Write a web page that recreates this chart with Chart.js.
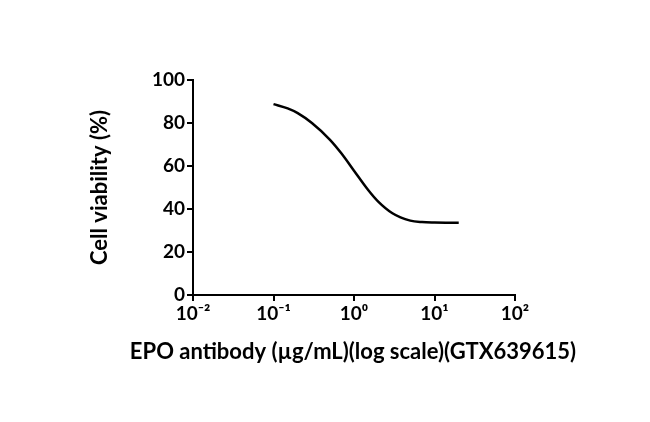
<!DOCTYPE html>
<html>
<head>
<meta charset="utf-8">
<script src="https://cdn.jsdelivr.net/npm/chart.js@4"></script>
<style>
html,body{margin:0;padding:0;background:#fff;}
#wrap{width:650px;height:422px;}
</style>
</head>
<body>
<div id="wrap"><canvas id="c" width="650" height="422"></canvas></div>
<script>
const concentrations = [0.1, 0.15, 0.2, 0.3, 0.5, 0.7, 1, 1.5, 2, 3, 5, 7, 10, 20];
const viability = [88.8, 86.8, 84.6, 80.0, 72.3, 65.8, 57.8, 48.8, 43.4, 38.0, 34.6, 33.9, 33.7, 33.6];
const xTickValues = [0.01, 0.1, 1, 10, 100];
const xTickLabels = ['10\u207B\u00B2', '10\u207B\u00B9', '10\u2070', '10\u00B9', '10\u00B2'];
const yTicks = [0, 20, 40, 60, 80, 100];
const xTitle = 'EPO antibody (\u00B5g/mL)(log scale)(GTX639615)';
const yTitle = 'Cell viability (%)';

const FONT = 'Lato, "Liberation Sans", sans-serif';
const pts = concentrations.map((x, i) => ({x: x, y: viability[i]}));

// x-axis title drawn without the scale-width squeeze Chart.js applies
const xTitlePlugin = {
  id: 'xTitlePlugin',
  afterDraw(chart) {
    const ctx = chart.ctx;
    const xs = chart.scales.x;
    ctx.save();
    ctx.fillStyle = '#000';
    ctx.font = 'bold 22px ' + FONT;
    ctx.textAlign = 'center';
    ctx.textBaseline = 'middle';
    ctx.fillText(xTitle, (xs.left + xs.right) / 2 - 1, xs.bottom - 13);
    ctx.restore();
  }
};

new Chart(document.getElementById('c'), {
  type: 'line',
  data: {
    datasets: [{
      data: pts,
      borderColor: '#000',
      borderWidth: 2.5,
      pointRadius: 0,
      fill: false,
      cubicInterpolationMode: 'monotone'
    }]
  },
  options: {
    responsive: false,
    animation: false,
    devicePixelRatio: 1,
    layout: {padding: {left: 86, top: 80, right: 135, bottom: 57}},
    plugins: {legend: {display: false}, tooltip: {enabled: false}},
    scales: {
      x: {
        type: 'logarithmic',
        min: 0.01,
        max: 100,
        afterBuildTicks: (s) => { s.ticks = xTickValues.map(v => ({value: v})); },
        afterFit: (s) => { s.height = 70; },
        ticks: {
          color: '#000',
          font: {family: FONT, size: 19, weight: 'bold'},
          padding: 1,
          maxRotation: 0,
          autoSkip: false,
          callback: (v) => { const i = xTickValues.indexOf(v); return i >= 0 ? xTickLabels[i] : ''; }
        },
        grid: {display: true, drawOnChartArea: false, drawTicks: true, tickLength: 6, color: '#000', lineWidth: 2},
        border: {display: true, color: '#000', width: 2},
        title: {display: false}
      },
      y: {
        min: 0,
        max: 100,
        afterBuildTicks: (s) => { s.ticks = yTicks.map(v => ({value: v})); },
        afterFit: (s) => { s.width = 107; },
        ticks: {
          color: '#000',
          font: {family: FONT, size: 19, weight: 'bold'},
          padding: 2
        },
        grid: {display: true, drawOnChartArea: false, drawTicks: true, tickLength: 6, color: '#000', lineWidth: 2},
        border: {display: true, color: '#000', width: 2},
        title: {display: true, text: yTitle, color: '#000', font: {family: FONT, size: 22, weight: 'bold'}, padding: {top: 1, bottom: 4}}
      }
    }
  },
  plugins: [xTitlePlugin]
});
</script>
</body>
</html>
